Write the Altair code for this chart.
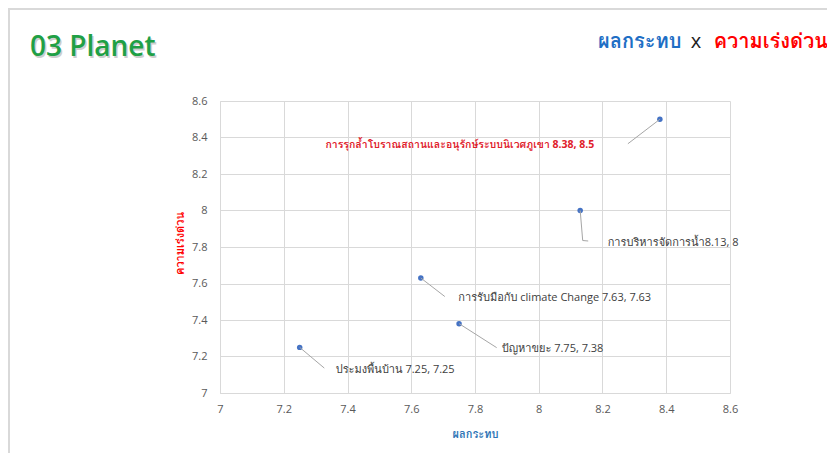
import altair as alt
import pandas as pd

# ---- data ----
names = [
    "การรุกล้ำโบราณสถานและอนุรักษ์ระบบนิเวศภูเขา",
    "การบริหารจัดการน้ำ",
    "การรับมือกับ climate Change",
    "ปัญหาขยะ",
    "ประมงพื้นบ้าน",
]
impact = [8.38, 8.13, 7.63, 7.75, 7.25]
urgency = [8.5, 8, 7.63, 7.38, 7.25]
labels = [
    "การรุกล้ำโบราณสถานและอนุรักษ์ระบบนิเวศภูเขา 8.38, 8.5",
    "การบริหารจัดการน้ำ8.13, 8",
    "การรับมือกับ climate Change 7.63, 7.63",
    "ปัญหาขยะ 7.75, 7.38",
    "ประมงพื้นบ้าน 7.25, 7.25",
]
axis_ticks = [7, 7.2, 7.4, 7.6, 7.8, 8, 8.2, 8.4, 8.6]

df = pd.DataFrame({"name": names, "impact": impact, "urgency": urgency, "label": labels})

# ---- layout (pixel offsets for label placement) ----
label_style = [
    dict(dx=-200, dy=26, align="center", color="#E0202A", weight="bold", size=10.5, lx=-32, ly=24.5),
    dict(dx=27.5, dy=32, align="left", color="#404040", weight="normal", size=11, lx=2.5, ly=30),
    dict(dx=37.5, dy=19.5, align="left", color="#404040", weight="normal", size=11, lx=24, ly=18.5),
    dict(dx=42.6, dy=25, align="left", color="#404040", weight="normal", size=11, lx=37.6, ly=24),
    dict(dx=36, dy=22.5, align="left", color="#404040", weight="normal", size=11, lx=24.6, ly=20.7),
]

FONT = "Open Sans, Noto Sans, Loma, Tahoma, sans-serif"
W, H = 510, 292
PX, PY = 220, 101  # page position of plot origin

xscale = alt.Scale(domain=[7, 8.6], nice=False, zero=False)
yscale = alt.Scale(domain=[7, 8.6], nice=False, zero=False)

x_axis = alt.Axis(values=axis_ticks, tickCount=9, format="~g", labelOverlap=False,
                  title="ผลกระทบ", titleColor="#2E75B6",
                  titleX=W / 2, titleY=41, titleBaseline="middle",
                  titleFontSize=11, titleFontWeight="bold", labelPadding=10)
y_axis = alt.Axis(values=axis_ticks, tickCount=9, format="~g", labelOverlap=False,
                  title="ความเร่งด่วน", titleColor="#FF0000",
                  titleX=-40, titleY=142, titleAngle=270, titleAlign="center",
                  titleBaseline="middle", titleFontSize=11, titleFontWeight="bold",
                  labelPadding=13)
X = alt.X("impact:Q", scale=xscale, axis=x_axis)
Y = alt.Y("urgency:Q", scale=yscale, axis=y_axis)

base = alt.Chart(df)

points = base.mark_circle(size=30, color="#4472C4", opacity=1).encode(x=X, y=Y)

layers = []
for i, st in enumerate(label_style):
    sub = alt.Chart(df.iloc[[i]])
    layers.append(
        sub.mark_rule(color="#A6A6A6", strokeWidth=1, x2Offset=st["lx"], y2Offset=st["ly"]).encode(
            x=X, y=Y, x2="impact:Q", y2="urgency:Q"
        )
    )
    layers.append(
        sub.mark_text(align=st["align"], baseline="middle", dx=st["dx"], dy=st["dy"],
                      fontSize=st["size"], font=FONT, color=st["color"],
                      fontWeight=st["weight"]).encode(
            x=X, y=Y, text="label:N"
        )
    )
# short horizontal tail on the bent leader of label 2
layers.append(
    alt.Chart(df.iloc[[1]]).mark_rule(color="#A6A6A6", strokeWidth=1,
                                      xOffset=2.5, yOffset=30, x2Offset=8, y2Offset=30.5).encode(
        x=X, y=Y, x2="impact:Q", y2="urgency:Q"
    )
)

# ---- decorative titles (pixel placement) ----
tdf = pd.DataFrame({"k": [0]})
tb = alt.Chart(tdf)
title_shadow = tb.mark_text(text="03 Planet", fontSize=28, font="Open Sans", fontWeight=600,
                            color="#9E9E9E", opacity=0.5, align="left", baseline="alphabetic").encode(
    x=alt.value(30 - PX + 1.5), y=alt.value(56 - PY + 1.5))
title_main = tb.mark_text(text="03 Planet", fontSize=28, font="Open Sans", fontWeight=600,
                          color="#1FA045", align="left", baseline="alphabetic").encode(
    x=alt.value(30 - PX), y=alt.value(56 - PY))
rt1 = tb.mark_text(text="ผลกระทบ", fontSize=20, font=FONT, fontWeight="bold",
                   color="#1F6FC5", align="left", baseline="middle").encode(
    x=alt.value(598 - PX), y=alt.value(42 - PY))
rt2 = tb.mark_text(text="x", fontSize=20, font=FONT, fontWeight="normal",
                   color="#222222", align="center", baseline="middle").encode(
    x=alt.value(696 - PX), y=alt.value(42 - PY))
rt3 = tb.mark_text(text="ความเร่งด่วน", fontSize=20, font=FONT, fontWeight="bold",
                   color="#FF0000", align="right", baseline="middle").encode(
    x=alt.value(828 - PX), y=alt.value(42 - PY))
border_top = tb.mark_rule(color="#D9D9D9", strokeWidth=2).encode(
    x=alt.value(8 - PX), x2=alt.value(827 - PX), y=alt.value(9 - PY))
border_left = tb.mark_rule(color="#D9D9D9", strokeWidth=2).encode(
    x=alt.value(9 - PX), y=alt.value(8 - PY), y2=alt.value(456 - PY))

chart = alt.layer(
    border_top, border_left, points, *layers,
    title_shadow, title_main, rt1, rt2, rt3
).properties(
    width=W, height=H,
    autosize=alt.AutoSizeParams(type="none"),
    padding={"left": PX - 8, "top": PY - 8, "right": 97, "bottom": 60},
    background="white",
).configure_view(
    stroke=None
).configure_axis(
    gridColor="#D9D9D9", domainColor="#D9D9D9", ticks=False,
    labelColor="#595959", labelFontSize=11, labelFont=FONT, titleFont=FONT,
    grid=True, labelOverlap=False, labelFlush=False, labelBound=False,
)

chart.save("out.html", embed_options={"renderer": "svg", "actions": False})
